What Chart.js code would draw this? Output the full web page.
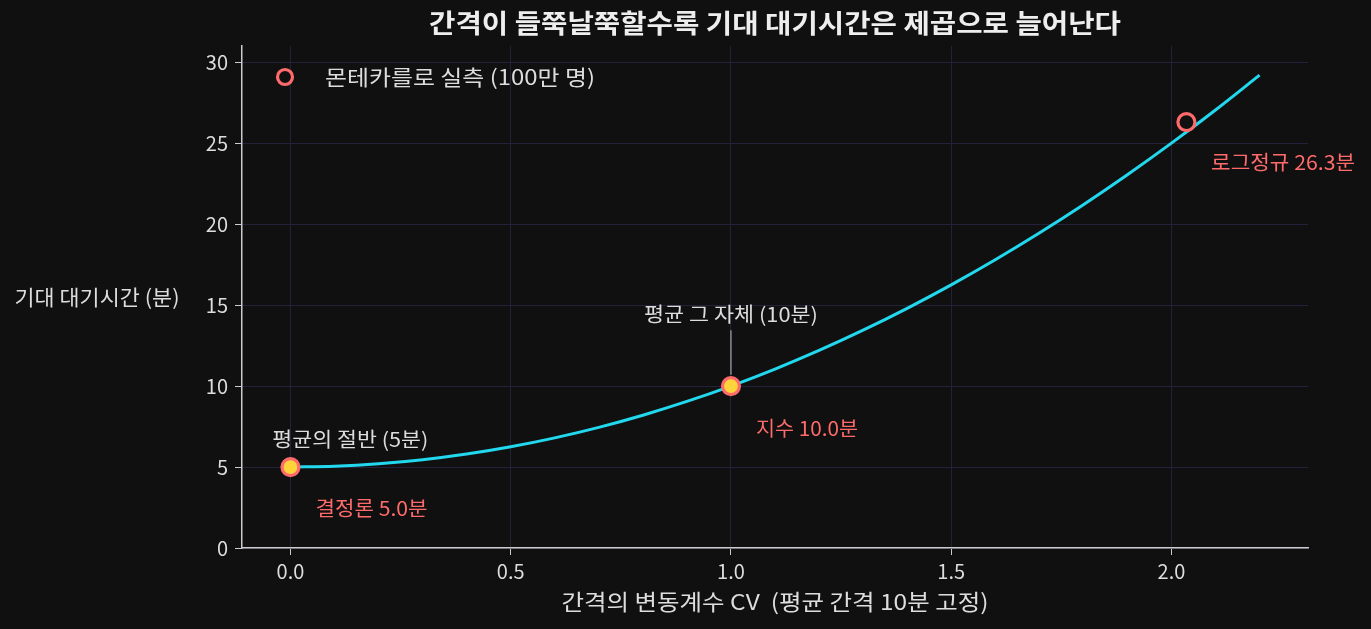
<!DOCTYPE html>
<html><head><meta charset="utf-8">
<script src="https://cdn.jsdelivr.net/npm/chart.js@4"></script>
<style>html,body{margin:0;padding:0;background:#101010;}#wrap{width:1371px;height:629px;}</style>
</head><body><div id="wrap"><canvas id="c" width="1371" height="629"></canvas></div>
<script>
const cvValues = [0.0,0.1,0.2,0.3,0.4,0.5,0.6,0.7,0.8,0.9,1.0,1.1,1.2,1.3,1.4,1.5,1.6,1.7,1.8,1.9,2.0,2.1,2.2];
const waitValues = [5.0,5.05,5.2,5.45,5.8,6.25,6.8,7.45,8.2,9.05,10.0,11.05,12.2,13.45,14.8,16.25,17.8,19.45,21.2,23.05,25.0,27.05,29.2];
const simCV = [0.0, 1.0, 2.034];
const simWait = [5.0, 10.0, 26.3];
const simLabels = ['결정론 5.0분','지수 10.0분','로그정규 26.3분'];
const xTicks = [0, 0.5, 1.0, 1.5, 2.0];
const yTicks = [0, 5, 10, 15, 20, 25, 30];
const FONT = "'Noto Sans CJK KR','Noto Sans',sans-serif";
const RED = '#ff6b6b', CYAN = '#22d8ee', YEL = '#ffd43b', BG = '#101010';

function fitText(c, t, x, y, w){
  const m = c.measureText(t).width;
  const s = w / m;
  c.save(); c.translate(x, y); c.scale(s, 1); c.fillText(t, 0, 0); c.restore();
}

const textPlugin = {
  id:'texts',
  beforeDraw(chart){
    const c = chart.ctx; c.save(); c.fillStyle = BG; c.fillRect(0,0,chart.width,chart.height); c.restore();
  },
  afterDraw(chart){
    const c = chart.ctx, x = chart.scales.x, y = chart.scales.y, a = chart.chartArea;
    c.save();
    c.textBaseline = 'middle';
    c.fillStyle = '#eeeeee'; c.font = "bold 26px " + FONT; c.textAlign = 'center';
    fitText(c, '간격이 들쭉날쭉할수록 기대 대기시간은 제곱으로 늘어난다', (a.left + a.right)/2, 23, 692);
    c.font = "22px " + FONT; c.fillStyle = '#dddddd';
    fitText(c, '간격의 변동계수 CV  (평균 간격 10분 고정)', (a.left + a.right)/2, 602, 427);
    c.font = "21px " + FONT;
    fitText(c, '기대 대기시간 (분)', 97, 297, 165);
    // legend
    c.beginPath(); c.arc(285, 77, 7.5, 0, Math.PI*2); c.fillStyle = BG; c.fill();
    c.lineWidth = 3.2; c.strokeStyle = RED; c.stroke();
    c.fillStyle = '#dddddd'; c.textAlign = 'left'; c.font = "21px " + FONT;
    fitText(c, '몬테카를로 실측 (100만 명)', 325, 77, 270);
    // reference annotations
    c.font = "20px " + FONT; c.textAlign = 'center'; c.fillStyle = '#dddddd';
    fitText(c, '평균의 절반 (5분)', x.getPixelForValue(0.136), y.getPixelForValue(6.7), 156);
    fitText(c, '평균 그 자체 (10분)', x.getPixelForValue(1.0), y.getPixelForValue(14.4), 174);
    c.strokeStyle = '#9a9aa8'; c.lineWidth = 1.3; c.beginPath();
    c.moveTo(x.getPixelForValue(1.0), y.getPixelForValue(13.45));
    c.lineTo(x.getPixelForValue(1.0), y.getPixelForValue(10.7)); c.stroke();
    // sim labels
    c.fillStyle = RED; c.textAlign = 'left';
    const lp = [[0.057, 2.47],[1.057, 7.4],[2.09, 23.8]];
    const lw = [112, 102, 144];
    simLabels.forEach((t,i)=> fitText(c, t, x.getPixelForValue(lp[i][0]), y.getPixelForValue(lp[i][1]), lw[i]));
    c.restore();
  }
};

new Chart(document.getElementById('c'), {
  type:'scatter',
  data:{ datasets:[
    { data: cvValues.map((v,i)=>({x:v, y:waitValues[i]})), showLine:true, borderColor:CYAN, borderWidth:3, pointRadius:0,
      cubicInterpolationMode:'monotone', order:2 },
    { data: simCV.map((v,i)=>({x:v, y:simWait[i]})), pointRadius:8.5, pointBorderWidth:3.2, borderColor:RED, pointBorderColor:RED,
      pointBackgroundColor:[YEL, YEL, BG], backgroundColor:[YEL,YEL,BG], order:1 }
  ]},
  options:{
    responsive:false, animation:false, devicePixelRatio:1,
    layout:{ padding:{ left:0, right:63, top:46, bottom:0 } },
    plugins:{ legend:{display:false}, tooltip:{enabled:false}, title:{display:false} },
    scales:{
      x:{ type:'linear', min:-0.11, max:2.31,
        afterBuildTicks: s => { s.ticks = xTicks.map(v=>({value:v})); },
        afterFit: s => { s.height = 81; },
        grid:{ color:'#22223a', lineWidth:1, tickColor:'#cccccc', tickLength:7, drawTicks:true },
        border:{ color:'#cccccc', width:1.5 },
        ticks:{ color:'#dddddd', font:{ family:FONT, size:20 }, padding:4, callback: v => Number(v).toFixed(1) } },
      y:{ type:'linear', min:0, max:31,
        afterBuildTicks: s => { s.ticks = yTicks.map(v=>({value:v})); },
        afterFit: s => { s.width = 242; },
        grid:{ color:'#22223a', lineWidth:1, tickColor:'#cccccc', tickLength:7, drawTicks:true },
        border:{ color:'#cccccc', width:1.5 },
        ticks:{ color:'#dddddd', font:{ family:FONT, size:20 }, padding:7, callback: v => String(v) } }
    }
  },
  plugins:[textPlugin]
});
</script></body></html>
